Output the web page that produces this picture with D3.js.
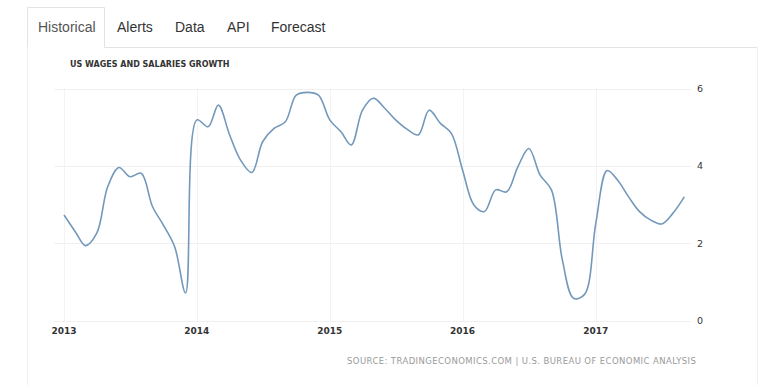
<!DOCTYPE html>
<html>
<head>
<meta charset="utf-8">
<script src="https://cdn.jsdelivr.net/npm/d3@7"></script>
<style>
  body { margin: 0; background: #fff; }
  svg { display: block; }
</style>
</head>
<body>
<svg width="784" height="385"></svg>
<script>
const svg = d3.select("svg");

// monthly values, Jan 2013 .. Sep 2017
const startMonth = new Date(2013, 0, 1);
const growth = [
  2.73, 2.30, 1.94, 2.26, 3.46, 3.96, 3.72, 3.81, 2.95, 2.47, 1.91, 0.72,
  5.19, 5.01, 5.57, 4.80, 4.15, 3.83, 4.63, 4.97, 5.14, 5.83, 5.90, 5.83,
  5.19, 4.88, 4.54, 5.44, 5.75, 5.49, 5.19, 4.95, 4.80, 5.44, 5.10, 4.84,
  3.89, 2.99, 2.82, 3.38, 3.33, 3.98, 4.45, 3.76, 3.38, 1.57, 0.58, 0.68,
  2.52, 3.88, 3.64, 3.20, 2.82, 2.60, 2.50, 2.78, 3.20
];
const yTicks = [0, 2, 4, 6];
const xTickYears = [2013, 2014, 2015, 2016, 2017];
const tabs = ["Historical", "Alerts", "Data", "API", "Forecast"];
const title = "US WAGES AND SALARIES GROWTH";
const source = "SOURCE: TRADINGECONOMICS.COM | U.S. BUREAU OF ECONOMIC ANALYSIS";

const data = growth.map((v, i) => ({
  date: d3.timeMonth.offset(startMonth, i),
  value: v
}));

// tabs
const tabX = [38, 117, 175, 227, 271];
svg.append("path")
  .attr("d", "M27.5,47.5 V7.5 H104.5 V47.5 H757.5")
  .attr("fill", "none")
  .attr("stroke", "#e3e3e3");
svg.append("line")
  .attr("x1", 27.5).attr("x2", 27.5).attr("y1", 47).attr("y2", 385)
  .attr("stroke", "#f0f0f0");
svg.append("line")
  .attr("x1", 757.5).attr("x2", 757.5).attr("y1", 47).attr("y2", 385)
  .attr("stroke", "#f0f0f0");
svg.selectAll(".tab")
  .data(tabs)
  .enter()
  .append("text")
  .attr("class", "tab")
  .attr("x", (d, i) => tabX[i])
  .attr("y", 32)
  .attr("font-family", "Liberation Sans, Arial, sans-serif")
  .attr("font-size", 14)
  .attr("fill", (d, i) => i === 0 ? "#555" : "#333")
  .text(d => d);

svg.append("text")
  .attr("x", 70)
  .attr("y", 67)
  .attr("font-family", "DejaVu Sans, sans-serif")
  .attr("font-size", 8)
  .attr("font-weight", "bold")
  .attr("fill", "#333")
  .text(title);

// scales
const x = d3.scaleTime()
  .domain([startMonth, d3.timeMonth.offset(startMonth, growth.length - 1)])
  .range([64, 684.3]);
const y = d3.scaleLinear()
  .domain([0, 6])
  .range([320.7, 88.5]);

// grid
svg.selectAll(".hgrid")
  .data(yTicks)
  .enter()
  .append("line")
  .attr("x1", 54).attr("x2", 691)
  .attr("y1", d => Math.round(y(d)) + 0.5)
  .attr("y2", d => Math.round(y(d)) + 0.5)
  .attr("stroke", "#f0f0f0");

svg.selectAll(".vgrid")
  .data(xTickYears)
  .enter()
  .append("line")
  .attr("x1", d => Math.round(x(new Date(d, 0, 1))) + 0.5)
  .attr("x2", d => Math.round(x(new Date(d, 0, 1))) + 0.5)
  .attr("y1", 88).attr("y2", 321)
  .attr("stroke", "#f3f3f3");

// axis labels
svg.selectAll(".ylab")
  .data(yTicks)
  .enter()
  .append("text")
  .attr("x", 697)
  .attr("y", d => y(d) + 3.5)
  .attr("font-family", "DejaVu Sans, sans-serif")
  .attr("font-size", 9.5)
  .attr("fill", "#333")
  .text(d => d);

svg.selectAll(".xlab")
  .data(xTickYears)
  .enter()
  .append("text")
  .attr("x", d => x(new Date(d, 0, 1)))
  .attr("y", 334)
  .attr("text-anchor", "middle")
  .attr("font-family", "DejaVu Sans, sans-serif")
  .attr("font-size", 9)
  .attr("font-weight", "bold")
  .attr("fill", "#333")
  .text(d => d);

// line
const line = d3.line()
  .x(d => x(d.date))
  .y(d => y(d.value))
  .curve(d3.curveCatmullRom.alpha(0.5));

svg.append("path")
  .datum(data)
  .attr("d", line)
  .attr("fill", "none")
  .attr("stroke", "#7398bb")
  .attr("stroke-width", 1.6);

svg.append("text")
  .attr("x", 347)
  .attr("y", 364)
  .attr("font-family", "DejaVu Sans, sans-serif")
  .attr("font-size", 8.5)
  .attr("letter-spacing", 0.4)
  .attr("fill", "#9a9a9a")
  .text(source);
</script>
</body>
</html>
